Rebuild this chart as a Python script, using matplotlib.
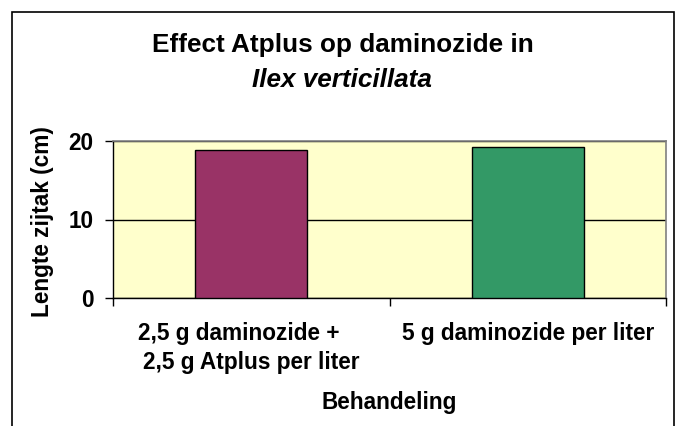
import matplotlib
matplotlib.use("Agg")
import matplotlib.pyplot as plt
from matplotlib.patches import Rectangle

categories = ["2,5 g daminozide +    \n2,5 g Atplus per liter", "5 g daminozide per liter"]
values = [18.9, 19.2]
bar_colors = ["#993366", "#339966"]
title_line1 = "Effect Atplus op daminozide in"
title_line2 = "Ilex verticillata"
y_label = "Lengte zijtak (cm)"
x_label = "Behandeling"
y_ticks = [0, 10, 20]

plt.rcParams["font.family"] = ["Liberation Sans", "DejaVu Sans"]

W, H = 676, 426
fig = plt.figure(figsize=(W / 100, H / 100), dpi=100)
fig.patch.set_facecolor("white")

L, R, T, B = 113, 666, 141, 298
ax = fig.add_axes([L / W, 1 - B / H, (R - L) / W, (B - T) / H])
ax.set_facecolor("#FFFFCC")

x = list(range(len(categories)))
ax.bar(x, values, width=0.405, color=bar_colors, edgecolor="black", linewidth=1.0, zorder=3)

ax.set_xlim(-0.5, len(categories) - 0.5)
ax.set_ylim(0, 20)
ax.set_yticks(y_ticks)
ax.set_yticklabels([str(t) for t in y_ticks], fontsize=16.3, fontweight="bold")
ax.tick_params(axis="y", direction="out", length=5.5, width=1, pad=8.5)

ax.set_xticks([i - 0.5 for i in range(len(categories) + 1)])
ax.set_xticklabels([""] * (len(categories) + 1))
ax.tick_params(axis="x", which="major", direction="out", length=5.5, width=1)
ax.set_xticks(x, minor=True)
ax.set_xticklabels(categories, minor=True, fontsize=16.3, fontweight="bold", linespacing=1.32)
ax.tick_params(axis="x", which="minor", length=0, pad=17.5)

ax.yaxis.grid(True, color="black", linewidth=1.0, zorder=1)
ax.set_axisbelow(True)

for s in ["top", "right"]:
    ax.spines[s].set_color("#808080")
    ax.spines[s].set_linewidth(1.2)
for s in ["left", "bottom"]:
    ax.spines[s].set_color("black")
    ax.spines[s].set_linewidth(1.0)

fig.text(343 / W, 1 - 45 / H, title_line1, ha="center", va="center", fontsize=18.8, fontweight="bold")
fig.text(342 / W, 1 - 80 / H, title_line2, ha="center", va="center", fontsize=18.8, fontweight="bold", style="italic")
fig.text(43 / W, 1 - 222 / H, y_label, ha="center", va="center", rotation=90, fontsize=16.3, fontweight="bold")
fig.text(389.5 / W, 1 - 403 / H, x_label, ha="center", va="center", fontsize=16.3, fontweight="bold")

fig.add_artist(Rectangle((12 / W, -0.1), (674 - 12) / W, 1.1 - 12 / H, transform=fig.transFigure,
                         fill=False, edgecolor="black", linewidth=1.2))

fig.savefig("out.png", dpi=100)
